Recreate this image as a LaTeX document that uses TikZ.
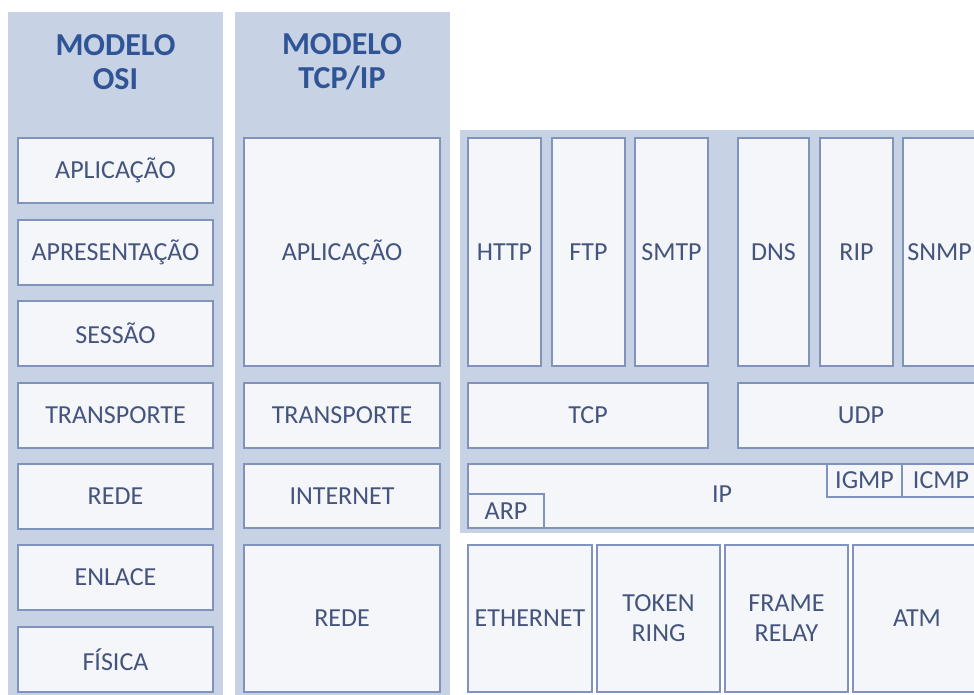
\documentclass[tikz,border=0pt]{standalone}
\usepackage{fontspec}
\setmainfont{Carlito}

\definecolor{panelfill}{RGB}{200,210,229}
\definecolor{boxfill}{RGB}{244,246,250}
\definecolor{boxline}{RGB}{128,147,188}
\definecolor{boxtext}{RGB}{68,84,125}
\definecolor{headtext}{RGB}{47,85,151}

\tikzset{
    layer/.style={draw=boxline, line width=1.5pt, fill=boxfill, text=boxtext,
        inner sep=0pt, align=center, font=\fontsize{26}{30}\selectfont},
    header/.style={text=headtext, align=center,
        font=\fontsize{32}{34}\selectfont\bfseries},
}

\begin{document}
\begin{tikzpicture}[x=1pt,y=-1pt]
    \useasboundingbox (0,0) rectangle (974,695);
    \clip (0,0) rectangle (974,695);

    % background panels
    \fill[panelfill] (8,12) rectangle (223,700);
    \fill[panelfill] (235,12) rectangle (450,700);
    \fill[panelfill] (460,130) rectangle (995,533);

    \node[header] (hosi) at (115.5,62) {MODELO\\OSI};
    \node[header] (htcp) at (342,62) {MODELO\\TCP/IP};

    % OSI layers
    \foreach \n/\t/\c in {1/APLICAÇÃO/170.5, 2/APRESENTAÇÃO/252.5,
        3/SESSÃO/333.5, 4/TRANSPORTE/415.5, 5/REDE/496.5,
        6/ENLACE/577.5, 7/FÍSICA/659.5} {
        \node[layer, minimum width=195pt, minimum height=65pt] (osi\n) at (115.5,\c) {\t};
    }

    % TCP/IP layers
    \node[layer, minimum width=196pt, minimum height=228pt] (tcp1) at (342,252) {APLICAÇÃO};
    \node[layer, minimum width=196pt, minimum height=65pt] (tcp2) at (342,415.5) {TRANSPORTE};
    \node[layer, minimum width=196pt, minimum height=64pt] (tcp3) at (342,496) {INTERNET};
    \node[layer, minimum width=196pt, minimum height=147pt] (tcp4) at (342,618.5) {REDE};

    % application protocols
    \foreach \n/\c/\w in {HTTP/504.5/73, FTP/588.5/73, SMTP/671.5/73,
        DNS/773.5/71, RIP/856.5/73, SNMP/939.5/73} {
        \node[layer, minimum width=\w pt, minimum height=228pt] (p\n) at (\c,252) {\n};
    }

    % transport and internet protocols
    \node[layer, minimum width=240pt, minimum height=65pt] (pTCP) at (588,415.5) {TCP};
    \node[layer, minimum width=246pt, minimum height=65pt] (pUDP) at (861,415.5) {UDP};
    \node[layer, minimum width=512pt, minimum height=64pt] (pIP) at (724,496) {};
    \node[text=boxtext, font=\fontsize{26}{30}\selectfont] (tIP) at (722,494) {IP};
    \node[layer, minimum width=75pt, minimum height=33pt] (pIGMP) at (864.5,480.5) {IGMP};
    \node[layer, minimum width=78pt, minimum height=33pt] (pICMP) at (941,480.5) {ICMP};
    \node[layer, minimum width=76pt, minimum height=34pt] (pARP) at (506,511) {ARP};

    % network access
    \node[layer, minimum width=124pt, minimum height=147pt] (pETH) at (530,618.5) {ETHERNET};
    \node[layer, minimum width=123pt, minimum height=147pt] (pTOK) at (658.5,618.5) {TOKEN\\RING};
    \node[layer, minimum width=123pt, minimum height=147pt] (pFR) at (786.5,618.5) {FRAME\\RELAY};
    \node[layer, minimum width=128pt, minimum height=147pt] (pATM) at (917,618.5) {ATM};

\end{tikzpicture}
\end{document}
